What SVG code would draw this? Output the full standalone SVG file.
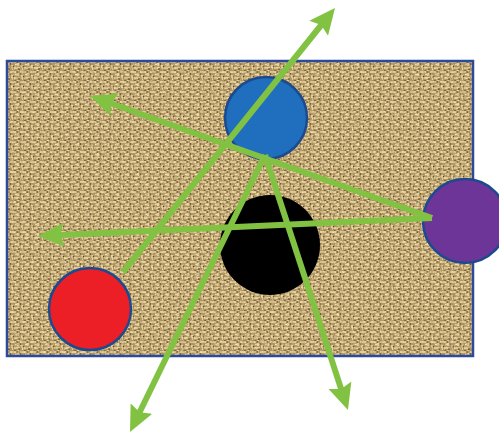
<svg xmlns="http://www.w3.org/2000/svg" width="499" height="437" viewBox="0 0 499 437">
<defs>
<pattern id="burlap" x="0" y="0" width="10" height="10" patternUnits="userSpaceOnUse">
<rect width="10" height="10" fill="#b8985f"/>
<path d="M0,2 H6 M8,0 V6 M2,5 V10 M4,8 H10 M5,4.5 H7" stroke="#f4e4b4" stroke-width="1.6" fill="none"/>
<path d="M6.8,2 H8.5 M0,4 H1 M3.5,6 V7 M9,8 V10 M1,9 H1.5 M5,0 V1" stroke="#5a4220" stroke-width="1.3" fill="none"/>
</pattern>
<filter id="noise" x="0" y="0" width="100%" height="100%">
<feTurbulence type="fractalNoise" baseFrequency="0.35" numOctaves="2" seed="7" result="n"/>
<feColorMatrix in="n" type="matrix" values="0 0 0 0 0.3  0 0 0 0 0.22  0 0 0 0 0.08  0 0 0 1.8 -0.6" result="d"/>
<feComposite in="d" in2="SourceGraphic" operator="in"/>
</filter>
<filter id="light" x="0" y="0" width="100%" height="100%">
<feTurbulence type="fractalNoise" baseFrequency="0.5" numOctaves="1" seed="2" result="n"/>
<feColorMatrix in="n" type="matrix" values="0 0 0 0 1  0 0 0 0 0.95  0 0 0 0 0.8  0 0 0 2 -0.95" result="d"/>
<feComposite in="d" in2="SourceGraphic" operator="in"/>
</filter>
<marker id="ah" viewBox="0 0 26 24" markerWidth="26" markerHeight="24" refX="8" refY="12" orient="auto" markerUnits="userSpaceOnUse">
<path d="M0,0 L26,12 L0,24 L4,12 z" fill="#82c243"/>
</marker>
</defs>
<style>
.arrow{stroke:#82c243;stroke-width:6;fill:none;stroke-linecap:butt;marker-end:url(#ah)}
.ball{stroke:#1d4a8f;stroke-width:2.5}
</style>
<g id="board">
<rect x="7" y="61" width="466" height="295" fill="url(#burlap)"/>
<rect x="7" y="61" width="466" height="295" fill="#000" filter="url(#noise)" opacity="0.6"/>
<rect x="7" y="61" width="466" height="295" fill="#fff" filter="url(#light)" opacity="0.5"/>
<rect x="7" y="61" width="466" height="295" fill="none" stroke="#2b4a9b" stroke-width="2.5"/>
</g>
<g id="blue-ball"><circle class="ball" cx="266" cy="118" r="41" fill="#1f6fbe"/></g>
<g id="black-ball"><circle cx="270" cy="245" r="50" fill="#000"/></g>
<g id="red-ball"><circle class="ball" cx="90" cy="309" r="41" fill="#ec1f27"/></g>
<g id="purple-ball"><circle class="ball" cx="465" cy="221" r="42" fill="#6d3597"/></g>
<g id="connectors">
<line class="arrow" x1="123" y1="272" x2="323.7" y2="22"/>
<line class="arrow" x1="432" y1="218" x2="107" y2="102"/>
<line class="arrow" x1="432" y1="218" x2="56" y2="235.2"/>
<line class="arrow" x1="265" y1="155" x2="137.9" y2="415.8"/>
<line class="arrow" x1="265" y1="155" x2="342.4" y2="392.9"/>
</g>
</svg>
